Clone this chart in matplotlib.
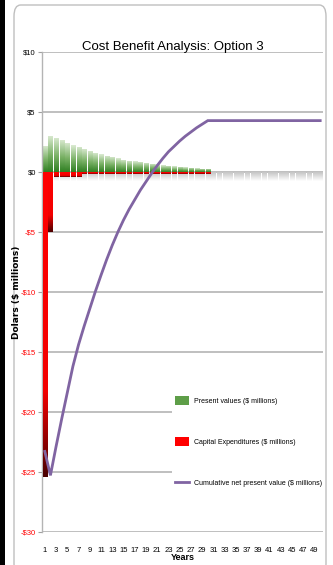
import numpy as np
import matplotlib
matplotlib.use("Agg")
import matplotlib.pyplot as plt
from matplotlib import font_manager
from matplotlib.colors import LinearSegmentedColormap
from matplotlib.patches import FancyBboxPatch, Rectangle
from matplotlib.lines import Line2D

# ---- data ($ millions) ----
years = list(range(1, 51))
present_values = [2.2, 3.05, 2.85, 2.7, 2.45, 2.25, 2.1, 1.97, 1.78, 1.63,
                  1.5, 1.35, 1.27, 1.15, 1.05, 0.97, 0.91, 0.85, 0.78, 0.72,
                  0.66, 0.58, 0.53, 0.48, 0.43, 0.39, 0.35, 0.32, 0.3, 0.28,
                  0, 0, 0, 0, 0, 0, 0, 0, 0, 0,
                  0, 0, 0, 0, 0, 0, 0, 0, 0, 0]
capital_expenditures = [-25.4, -5.0, -0.4, -0.4, -0.4, -0.4, -0.4, -0.18, -0.18, -0.18,
                        -0.18, -0.18, -0.18, -0.18, -0.18, -0.18, -0.18, -0.18, -0.18, -0.18,
                        -0.18, -0.18, -0.18, -0.18, -0.18, -0.18, -0.18, -0.18, -0.18, -0.18,
                        0, 0, 0, 0, 0, 0, 0, 0, 0, 0,
                        0, 0, 0, 0, 0, 0, 0, 0, 0, 0]
cumulative_npv = [-23.3, -25.3, -22.9, -20.6, -18.4, -16.2, -14.4, -12.85, -11.4, -9.95,
                  -8.6, -7.3, -6.1, -5.0, -4.0, -3.1, -2.3, -1.5, -0.8, -0.1,
                  0.55, 1.15, 1.7, 2.15, 2.6, 3.0, 3.35, 3.7, 4.0, 4.3,
                  4.3, 4.3, 4.3, 4.3, 4.3, 4.3, 4.3, 4.3, 4.3, 4.3,
                  4.3, 4.3, 4.3, 4.3, 4.3, 4.3, 4.3, 4.3, 4.3, 4.3]
y_ticks = [10, 5, 0, -5, -10, -15, -20, -25, -30]
x_labels = [str(y) for y in years if y % 2 == 1]
legend_labels = ["Present values ($ millions)",
                 "Capital Expenditures ($ millions)",
                 "Cumulative net present value ($ millions)"]


def pick_font(names):
    for n in names:
        try:
            font_manager.findfont(n, fallback_to_default=False)
            return n
        except Exception:
            pass
    return "DejaVu Sans"


NARROW = pick_font(["Liberation Sans Narrow", "DejaVu Sans Condensed", "Liberation Sans"])

W, H = 333, 565


def fx(px):
    return px / W


def fy(py):
    return 1 - py / H


def gradient_bars(ax, bars, cmap, zorder):
    # fill every bar with a vertical gradient: 0 = baseline, 1 = bar tip
    grad = np.linspace(0, 1, 256).reshape(-1, 1)
    for bar in bars:
        x0, y0 = bar.get_xy()
        w, h = bar.get_width(), bar.get_height()
        if h == 0:
            continue
        bar.set_facecolor("none")
        bar.set_edgecolor("none")
        im = ax.imshow(grad, cmap=cmap, extent=[x0, x0 + w, y0, y0 + h],
                       origin="lower", aspect="auto", zorder=zorder,
                       interpolation="bilinear")
        im.set_clip_path(bar)


green_cmap = LinearSegmentedColormap.from_list(
    "pv", [(0, "#2f7f22"), (0.45, "#78b064"), (1, "#dcebd3")])
red_cmap = LinearSegmentedColormap.from_list(
    "capex", [(0, "#ff0000"), (0.72, "#f20000"), (1, "#4a0000")])
shadow_cmap = LinearSegmentedColormap.from_list(
    "shadow", [(0, "#c4c4c4"), (1, "#ffffff")])

fig = plt.figure(figsize=(W / 100, H / 100), dpi=100)
fig.patch.set_facecolor("white")

# black strip on the left and the rounded chart-area border
fig.add_artist(Rectangle((0, 0), fx(5), 1, transform=fig.transFigure,
                         facecolor="black", edgecolor="none", zorder=0))
fig.add_artist(FancyBboxPatch((fx(14), fy(575)), fx(312), fy(5) - fy(575),
                              boxstyle="round,pad=0,rounding_size=0.02",
                              transform=fig.transFigure, facecolor="none",
                              edgecolor="#bfbfbf", lw=1.0, zorder=1))

ax = fig.add_axes([fx(42), fy(531.7), fx(323) - fx(42), fy(52.3) - fy(531.7)])
ax.set_facecolor("none")

x = np.array(years)
shadow = ax.bar(x, [-0.7] * len(years), width=0.72, zorder=1)
gradient_bars(ax, shadow, shadow_cmap, 1)
pv_bars = ax.bar(x, present_values, width=0.72, zorder=2)
gradient_bars(ax, pv_bars, green_cmap, 2)
cx_bars = ax.bar(x, capital_expenditures, width=0.72, zorder=3)
gradient_bars(ax, cx_bars, red_cmap, 3)
ax.plot(x, cumulative_npv, color="#8064a2", lw=2.0, zorder=4,
        solid_joinstyle="miter")

ax.set_xlim(0.5, 50.5)
ax.set_ylim(-30, 10)
ax.set_yticks(y_ticks)
ax.set_yticklabels([("-$%d" % -v) if v < 0 else ("$%d" % v) for v in y_ticks],
                   fontfamily=NARROW, fontsize=5.5)
for lbl, v in zip(ax.get_yticklabels(), y_ticks):
    lbl.set_color("red" if v < 0 else "black")
ax.set_xticks([y for y in years if y % 2 == 1])
ax.set_xticklabels(x_labels, fontfamily=NARROW, fontsize=5.5)
ax.tick_params(axis="x", length=0, pad=11)
ax.tick_params(axis="y", length=3, color="#a0a0a0", pad=1.5)
ax.grid(axis="y", color="#b4b4b4", lw=1.2, zorder=0)
ax.set_axisbelow(True)
for side in ["top", "right", "bottom"]:
    ax.spines[side].set_visible(False)
ax.spines["left"].set_color("#b4b4b4")
ax.spines["left"].set_linewidth(1.0)

fig.text(fx(173), fy(47), "Cost Benefit Analysis: Option 3", ha="center",
         va="center", fontfamily=NARROW, fontsize=9.5)
fig.text(fx(17), fy(292), "Dolars ($ millions)", rotation=90, ha="center",
         va="center", fontsize=6.5, fontweight="bold")
fig.text(fx(183), fy(558), "Years", ha="center", va="center",
         fontfamily=NARROW, fontsize=6.5, fontweight="bold")

handles = [Rectangle((0, 0), 1, 1, facecolor="#5e9e48", edgecolor="none"),
           Rectangle((0, 0), 1, 1, facecolor="#ff0000", edgecolor="none"),
           Line2D([0], [0], color="#8064a2", lw=2)]
leg = ax.legend(handles, legend_labels, loc="upper left",
                bbox_to_anchor=(fx(172), fy(393)), bbox_transform=fig.transFigure,
                frameon=True, facecolor="white", edgecolor="none", framealpha=1,
                fancybox=False, prop={"family": NARROW, "size": 5},
                labelspacing=4.6, handlelength=2.0, handleheight=1.6,
                handletextpad=0.6, borderpad=0.5, borderaxespad=0)
leg.set_zorder(6)

fig.savefig("out.png", dpi=100)
